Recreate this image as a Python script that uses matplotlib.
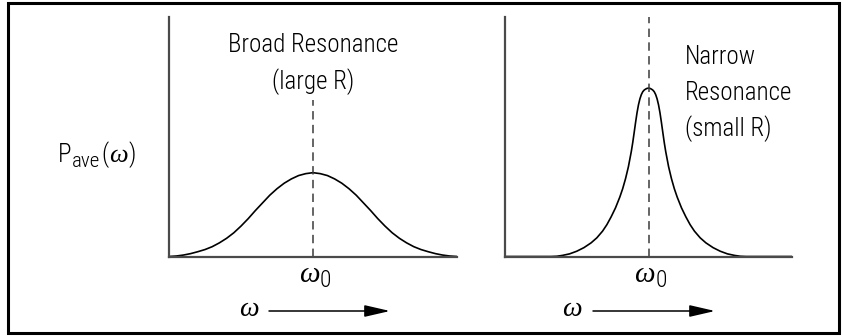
import matplotlib
matplotlib.use("Agg")
import matplotlib.pyplot as plt
from matplotlib import font_manager as fm
from matplotlib.patches import Rectangle, FancyArrowPatch

# ---- pick a narrow sans face if one is installed ----
_names = {f.name for f in fm.fontManager.ttflist}
_pref = ['Liberation Sans Narrow', 'Roboto Condensed', 'Open Sans Condensed',
         'Noto Sans Condensed', 'DejaVu Sans Condensed']
_cands = [n for n in _pref if n in _names]
_cands += sorted(n for n in _names if ('Narrow' in n or 'Condensed' in n) and n not in _cands)
FONT = _cands[0] if _cands else 'Roboto'
plt.rcParams['font.family'] = [FONT, 'DejaVu Sans']
plt.rcParams['font.weight'] = 'light'
plt.rcParams['mathtext.fontset'] = 'custom'
plt.rcParams['mathtext.rm'] = FONT
plt.rcParams['mathtext.it'] = 'Liberation Serif:italic'

# ---- data ----
center_freq = 5.0
broad_x = [0.0, 0.25, 0.5, 0.75, 1.0, 1.25, 1.5, 1.75, 2.0, 2.25, 2.5, 2.75,
           3.0, 3.25, 3.5, 3.75, 4.0, 4.25, 4.5, 4.75, 5.0,
           5.25, 5.5, 5.75, 6.0, 6.25, 6.5, 6.75, 7.0, 7.25, 7.5, 7.75,
           8.0, 8.25, 8.5, 8.75, 9.0, 9.25, 9.5, 9.75, 10.0]
broad_y = [0.0, 0.02, 0.06, 0.12, 0.20, 0.29, 0.41, 0.57, 0.76, 0.99, 1.27, 1.58,
           1.92, 2.24, 2.56, 2.83, 3.06, 3.24, 3.38, 3.46, 3.50,
           3.46, 3.38, 3.24, 3.06, 2.83, 2.56, 2.24, 1.92, 1.58, 1.27, 0.99,
           0.76, 0.57, 0.41, 0.29, 0.20, 0.12, 0.06, 0.02, 0.0]
narrow_x = [0.0, 1.6, 1.8, 2.0, 2.25, 2.5, 2.75, 3.0, 3.2, 3.4, 3.55, 3.7, 3.85,
            4.0, 4.1, 4.2, 4.3, 4.4, 4.45, 4.5, 4.55, 4.6, 4.65, 4.7, 4.75,
            4.8, 4.85, 4.9, 4.95, 5.0,
            5.05, 5.1, 5.15, 5.2, 5.25, 5.3, 5.35, 5.4, 5.45, 5.5, 5.55, 5.6,
            5.7, 5.8, 5.9, 6.0, 6.15, 6.3, 6.45, 6.6, 6.8, 7.0, 7.25, 7.5,
            7.75, 8.0, 8.2, 8.4, 10.0]
narrow_y = [0.0, 0.0, 0.01, 0.045, 0.11, 0.22, 0.37, 0.57, 0.78, 1.06, 1.33, 1.66,
            2.03, 2.48, 2.83, 3.25, 3.75, 4.38, 4.75, 5.17, 5.6, 6.0, 6.33, 6.58,
            6.76, 6.88, 6.95, 6.99, 7.02, 7.03,
            7.02, 6.99, 6.95, 6.88, 6.76, 6.58, 6.33, 6.0, 5.6, 5.17, 4.75, 4.38,
            3.75, 3.25, 2.83, 2.48, 2.03, 1.66, 1.33, 1.06, 0.78, 0.57, 0.37, 0.22,
            0.11, 0.045, 0.01, 0.0, 0.0]
broad_line_top = 6.53
narrow_line_top = 10.0
broad_title = ["Broad Resonance", "(large R)"]
narrow_title = ["Narrow", "Resonance", "(small R)"]

W, H = 844, 336
fig = plt.figure(figsize=(W / 100, H / 100), dpi=100)
renderer = fig.canvas.get_renderer()

def px_axes(x0, x1, ytop, ybot):
    return fig.add_axes([x0 / W, 1 - ybot / H, (x1 - x0) / W, (ybot - ytop) / H])

def compose(x_px, base_px, pieces, align='left'):
    """pieces: (text, fontsize, dy_px, gap_px, italic_math)"""
    arts, widths = [], []
    for txt, fs, dy, gap, _ in pieces:
        t = fig.text(0, 0, txt, fontsize=fs, ha='left', va='baseline')
        arts.append(t)
        widths.append(t.get_window_extent(renderer).width + gap)
    total = sum(widths)
    x = x_px - (total / 2 if align == 'center' else 0)
    for t, w, (txt, fs, dy, gap, _) in zip(arts, widths, pieces):
        t.set_position((x / W, 1 - (base_px + dy) / H))
        x += w

axL = px_axes(169, 457, 17, 256.5)
axR = px_axes(505, 792, 17, 256.5)

spine_col = '#4a4a4a'
for ax in (axL, axR):
    ax.set_xlim(0, 10)
    ax.set_ylim(0, 10)
    for s in ('top', 'right'):
        ax.spines[s].set_visible(False)
    for s in ('left', 'bottom'):
        ax.spines[s].set_color(spine_col)
        ax.spines[s].set_linewidth(1.6)
    ax.set_xticks([])
    ax.set_yticks([])
    ax.patch.set_visible(False)

axL.plot(broad_x, broad_y, color='black', lw=1.2, solid_capstyle='round')
axR.plot(narrow_x, narrow_y, color='black', lw=1.2, solid_capstyle='round')

dash = dict(color='#3a3a3a', lw=1.1, linestyle=(0, (5.5, 3.5)))
axL.plot([center_freq, center_freq], [0, broad_line_top], **dash)
axR.plot([center_freq, center_freq], [0, narrow_line_top], **dash)

# omega_0 labels under the centre frequency
for ax in (axL, axR):
    cx = ax.transData.transform((center_freq, 0))[0]
    compose(cx + 2, 282, [(r"$\omega$", 21, 0, 0, True), ("0", 17, 5, 0, False)],
            align='center')

# titles (one line each)
for i, line in enumerate(broad_title):
    fig.text(313 / W, 1 - (45 + 37 * i) / H, line, ha='center', va='center',
             fontsize=18)
for i, line in enumerate(narrow_title):
    fig.text(685 / W, 1 - (57 + 36 * i) / H, line, ha='left', va='center',
             fontsize=18)

# y label P_ave(omega)
compose(58, 162, [("P", 18, 0, 0, False), ("ave", 15, 5, 2, False),
                  ("(", 18, 0, 0, False), (r"$\omega$", 19, 0, 0, True),
                  (")", 18, 0, 0, False)])

# omega arrows
for wx, a0, a1 in ((249, 269, 390), (572, 593, 715)):
    fig.text(wx / W, 1 - 316 / H, r"$\omega$", ha='center', va='baseline', fontsize=20)
    fig.patches.append(FancyArrowPatch(
        (a0 / W, 1 - 311 / H), (a1 / W, 1 - 311 / H), transform=fig.transFigure,
        arrowstyle='-|>,head_length=1.3,head_width=0.3', mutation_scale=12,
        color='black', lw=1.1, shrinkA=0, shrinkB=0))

# outer frame
fig.patches.append(Rectangle((8 / W, 3 / H), 831 / W, 330 / H,
                             transform=fig.transFigure, fill=False,
                             edgecolor='black', lw=2.2))

fig.savefig('out.png', dpi=100)
